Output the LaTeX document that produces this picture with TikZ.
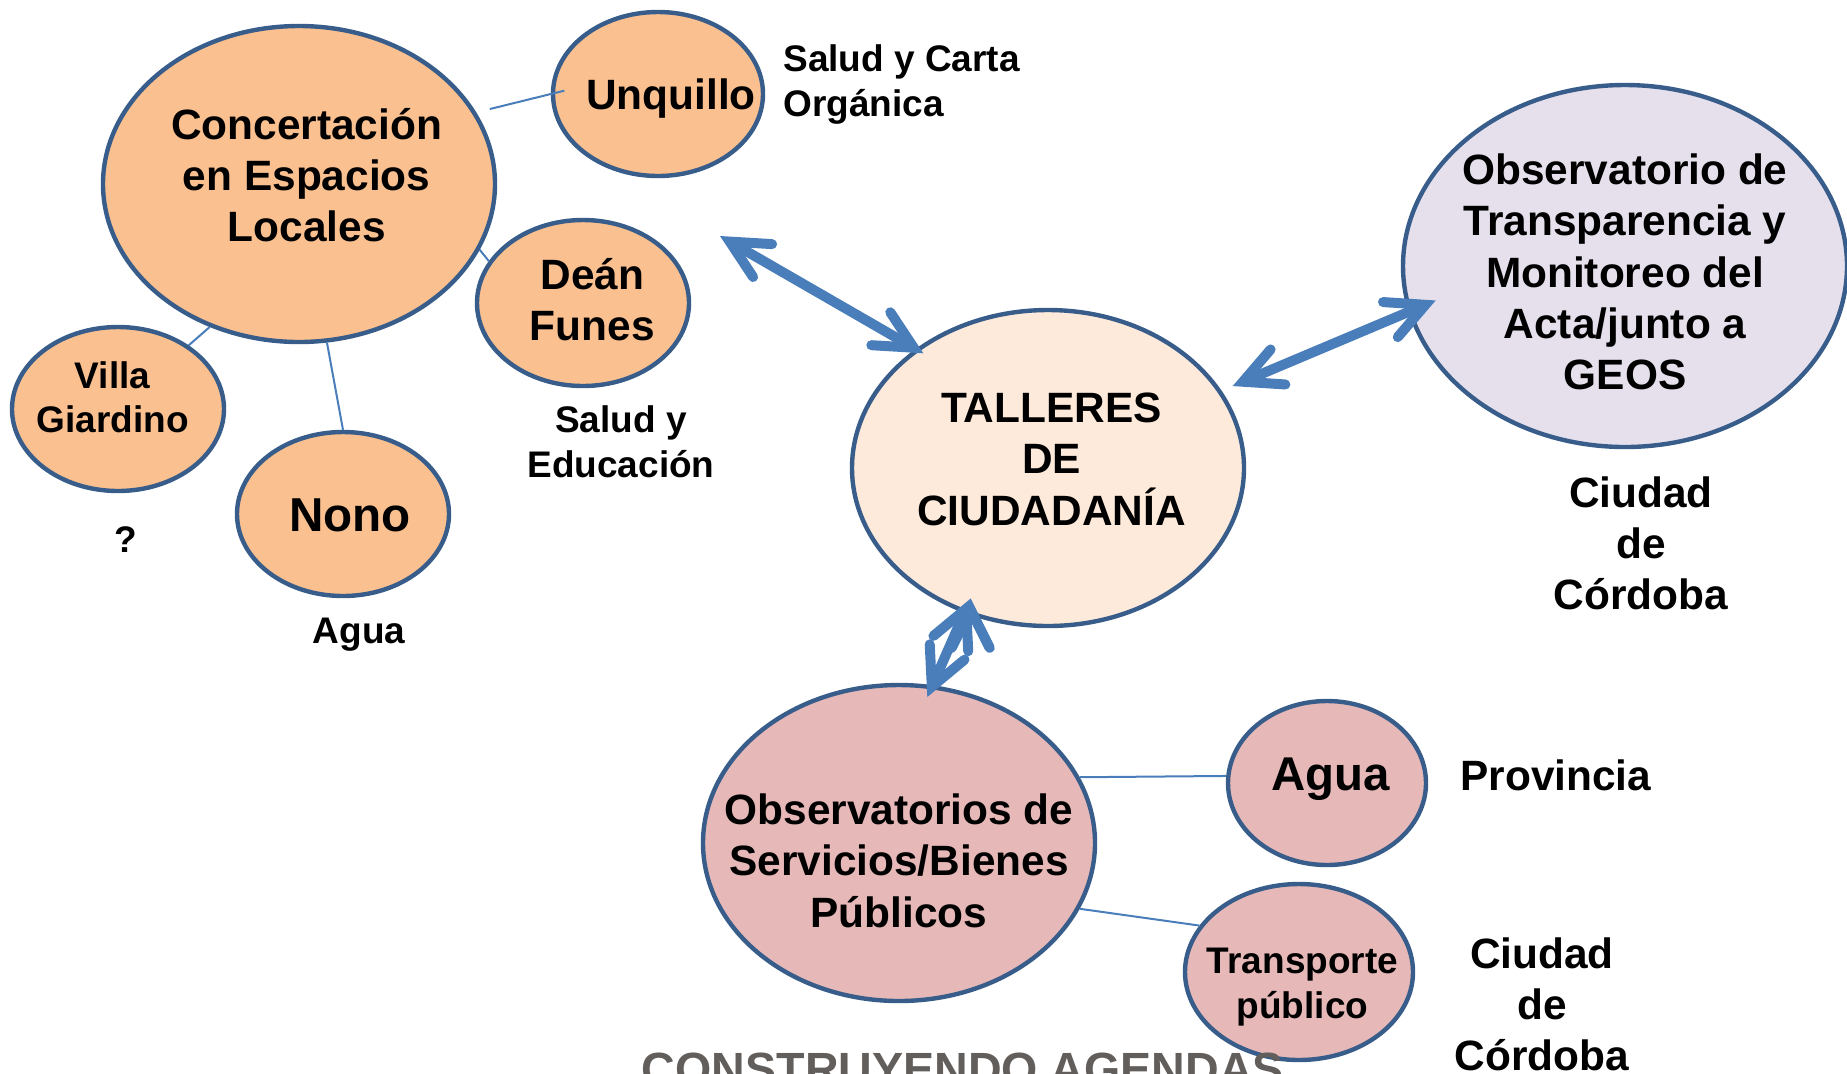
\documentclass[tikz,border=0pt]{standalone}
\usepackage{fontspec}
\setmainfont{Liberation Sans}
\usepackage{tikz}
\usetikzlibrary{calc,shapes.geometric,arrows.meta}

\definecolor{ring}{RGB}{56,93,138}
\definecolor{arrowblue}{RGB}{74,126,187}
\definecolor{peach}{RGB}{250,192,144}
\definecolor{cream}{RGB}{253,234,218}
\definecolor{lilac}{RGB}{230,224,236}
\definecolor{rose}{RGB}{230,185,184}
\definecolor{banner}{RGB}{98,94,92}

\begin{document}
\begin{tikzpicture}[x=0.5pt, y=-0.5pt,
    bubble/.style={ellipse, draw=ring, line width=2.2pt, inner sep=0pt, inner xsep=-20pt,
      align=center, font=\bfseries\fontsize{21.2}{25.6}\selectfont, text depth=0pt},
    smalltext/.style={font=\bfseries\fontsize{18.5}{22.4}\selectfont},
    tag/.style={inner sep=0pt, align=center, font=\bfseries\fontsize{18.5}{22.4}\selectfont,
      text height=13.2pt, text depth=0pt},
    bigtag/.style={tag, font=\bfseries\fontsize{21.2}{25.6}\selectfont, text height=15.2pt},
    link/.style={draw=arrowblue, line width=1pt},
    dbl/.style={draw=arrowblue, line width=5pt,
      >={Straight Barb[length=19pt,width=19pt,line cap=round]}, <->}]
  \path[use as bounding box, clip] (0,0) rectangle (1847,1073);

  % espacios locales
  \node[bubble, fill=peach, minimum width=196pt, minimum height=158pt, text height=57.4pt]
    (conc) at (299,184) {\hspace*{7.7pt}Concertación\\\hspace*{7.7pt}en Espacios\\\hspace*{7.7pt}Locales};
  \node[bubble, fill=peach, minimum width=105pt, minimum height=82pt, text height=15.2pt]
    (unq) at (658,94) {\hspace*{13pt}Unquillo};
  \node[bubble, fill=peach, minimum width=106pt, minimum height=83pt, text height=37.3pt]
    (dean) at (583,303) {\hspace*{9.4pt}Deán\\\hspace*{9.4pt}Funes};
  \node[bubble, smalltext, fill=peach, minimum width=106pt, minimum height=82pt, text height=23.8pt]
    (villa) at (118,409) {Villa\hspace*{5.3pt}\\Giardino\hspace*{5.3pt}};
  \node[bubble, fill=peach, minimum width=106pt, minimum height=82pt,
    font=\bfseries\fontsize{23.8}{28}\selectfont, text height=17pt]
    (nono) at (343,514) {\hspace*{7pt}Nono};

  % centro y observatorios
  \node[bubble, fill=cream, minimum width=196pt, minimum height=158pt, text height=57pt]
    (talleres) at (1048,468) {\hspace*{3.5pt}TALLERES\\\hspace*{3.5pt}DE\\\hspace*{3.5pt}CIUDADANÍA};
  \node[bubble, fill=lilac, minimum width=222pt, minimum height=181pt, text height=123.5pt]
    (obst) at (1625,266) {Observatorio de\\Transparencia y\\Monitoreo del\\Acta/junto a\\GEOS};
  \node[bubble, fill=rose, minimum width=196pt, minimum height=158pt, text height=84.1pt]
    (servicios) at (899,843) {Observatorios de\\Servicios/Bienes\\Públicos};
  \node[bubble, fill=rose, minimum width=99pt, minimum height=82pt,
    font=\bfseries\fontsize{23.7}{27}\selectfont, text height=17pt, text depth=9.4pt]
    (agua) at (1327,783) {\hspace*{3.5pt}Agua};
  \node[bubble, smalltext, fill=rose, minimum width=114pt, minimum height=88pt, text height=46.2pt]
    (transporte) at (1299,972) {\hspace*{3.5pt}Transporte\\\hspace*{3.5pt}público};

  % textos sueltos
  \node[tag, anchor=west, align=left, text height=35.6pt] (tunq) at (783,81) {Salud y Carta\\Orgánica};
  \node[tag, text height=35.6pt] (tdean) at (621,442) {Salud y\\Educación};
  \node[tag] (tvilla) at (126,539) {?};
  \node[tag] (tnono) at (359,630) {Agua};
  \node[bigtag, text height=66.4pt] (tobst) at (1641,543) {Ciudad\\de\\Córdoba};
  \node[bigtag, anchor=west] (tagua) at (1460,775) {Provincia};
  \node[bigtag, text height=66.4pt] (ttransp) at (1542,1004) {Ciudad\\de\\Córdoba};
  \node[tag, anchor=north, text=banner, font=\bfseries\fontsize{23.3}{28}\selectfont,
    text height=16.7pt] (titulo) at (963,1052) {CONSTRUYENDO AGENDAS};

  \coordinate (loc) at (720,236);
  \coordinate (tsup) at ($(talleres.240)!-8pt!(servicios.78)$);

  \path [link]
    (conc.22) edge[shorten <=7pt, shorten >=-7pt] (unq.180)
    (conc.-20) edge (dean.156)
    (conc.-122) edge (villa.42)
    (conc.-80) edge (nono.north)
    (servicios.20) edge (agua.176)
    (servicios.-20) edge (transporte.155)
  ;
  \path [dbl]
    (loc) edge[shorten >=-4.5pt] (talleres.138)
    (talleres.24) edge[shorten <=6pt, shorten >=-15pt] (obst.192)
    (tsup) edge[shorten >=-6.5pt] (servicios.78)
  ;
\end{tikzpicture}
\end{document}
